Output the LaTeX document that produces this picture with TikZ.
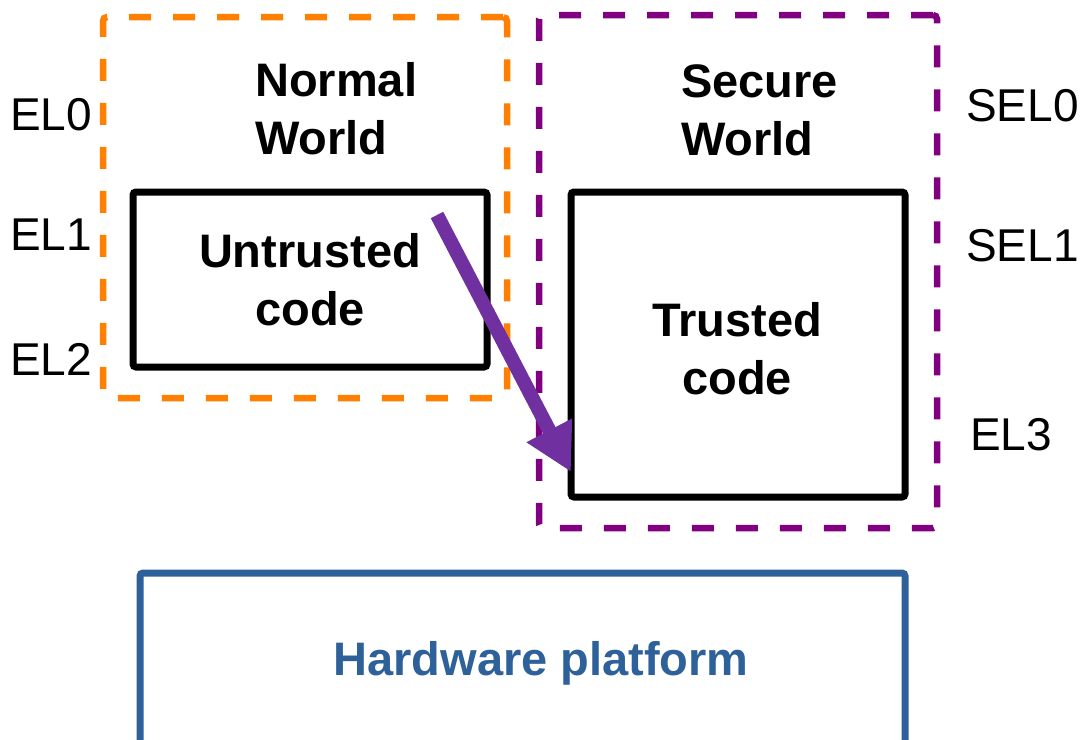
\documentclass[tikz,border=0pt]{standalone}
\usepackage{fontspec}
\setmainfont{Liberation Sans}
\usetikzlibrary{arrows.meta}
\definecolor{nworld}{HTML}{FF8000}
\definecolor{sworld}{HTML}{800080}
\definecolor{smc}{HTML}{7030A0}
\definecolor{hwblue}{HTML}{2E6199}

\begin{document}
\begin{tikzpicture}[x=1pt,y=-1pt,
  worldbox/.style={draw=#1, line width=6.5pt, dash pattern=on 22pt off 22pt,
    rounded corners=4pt, inner sep=0pt},
  codebox/.style={draw=black, line width=7pt, rounded corners=3pt, inner sep=0pt},
  hwbox/.style={draw=hwblue, line width=7pt, rounded corners=3pt, inner sep=0pt},
  title/.style={font=\fontsize{47}{58}\selectfont\bfseries, inner sep=0pt},
  level/.style={font=\fontsize{46}{56}\selectfont, inner sep=0pt, anchor=base west},
  switch/.style={draw=smc, line width=14pt, -{Triangle[length=47pt,width=48pt]}}]
  \useasboundingbox (0,0) rectangle (1087,739);

  % the two worlds
  \node[worldbox=nworld, minimum width=404pt, minimum height=381pt] (normal) at (305,207.5) {};
  \node[worldbox=sworld, minimum width=398pt, minimum height=513pt] (secure) at (738,271.5) {};

  % code blocks
  \node[codebox, minimum width=354pt, minimum height=175pt] (untrusted) at (310,279.5) {};
  \node[codebox, minimum width=334pt, minimum height=305pt] (trusted) at (738,344.5) {};

  % hardware
  \node[hwbox, minimum width=765pt, minimum height=172pt] (hw) at (522.5,659) {};
  \node[title, text=hwblue, anchor=base] (hwlabel) at (541,675) {Hardware platform};

  % world switch
  \coordinate (src) at (437,215);
  \coordinate (dst) at (571,472);
  \draw[switch] (src) -- (dst);

  % titles
  \node[title, align=left, anchor=north west] (normaltitle) at (255,62) {Normal\\World};
  \node[title, align=left, anchor=north west] (securetitle) at (681,64) {Secure\\World};
  \node[title, align=center, anchor=north] (untrustedlabel) at (310,233) {Untrusted\\code};
  \node[title, align=center, anchor=north] (trustedlabel) at (737,302) {Trusted\\code};

  % exception levels
  \node[level] (el0) at (10,130) {EL0};
  \node[level] (el1) at (10,250) {EL1};
  \node[level] (el2) at (10,375) {EL2};
  \node[level] (sel0) at (966,121) {SEL0};
  \node[level] (sel1) at (966,261) {SEL1};
  \node[level] (el3) at (970,450) {EL3};
\end{tikzpicture}
\end{document}
